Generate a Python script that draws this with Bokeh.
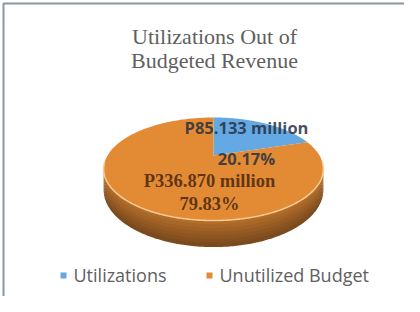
import numpy as np
from bokeh.plotting import figure
from bokeh.models import Range1d
from bokeh.embed import file_html
from bokeh.resources import INLINE
from bokeh.core.properties import value

# ---------------- data ----------------
title_lines = ["Utilizations Out of", "Budgeted Revenue"]
categories = ["Utilizations", "Unutilized Budget"]
amounts_million = [85.133, 336.870]
percents = [20.17, 79.83]
colors = ["#64A8E4", "#E38A35"]

# ---------------- figure (data units = page pixels) ----------------
W, H = 404, 296
p = figure(width=W, height=H, x_range=Range1d(8, 8 + W), y_range=Range1d(8 + H, 8),
           output_backend="svg", toolbar_location=None, min_border=0)
p.axis.visible = False
p.grid.visible = False
p.outline_line_color = None
p.background_fill_color = "white"
p.border_fill_color = "white"

# chart frame (only left and top edges are visible in the window)
p.quad(left=11, right=600, top=11, bottom=600, fill_color=None,
       line_color="#8797A6", line_width=2)

# ---------------- 3D perspective pie ----------------
CX, CY = 221, 163      # projected centre of the disc
A, B = 106, 48         # disc radii before perspective
G = -0.262             # perspective strength
DEPTH = 19             # thickness


def proj(theta, depth=0.0):
    u = np.sin(theta)
    v = -np.cos(theta)
    w = 1.0 / (1.0 + G * v)
    return CX + A * u * w, CY + B * v * w + depth * w


def mix(hexcol, f, other=(0, 0, 0)):
    r, g, b = (int(hexcol[i:i + 2], 16) for i in (1, 3, 5))
    c = [int(round(x * f + o * (1 - f))) for x, o in zip((r, g, b), other)]
    return "#%02x%02x%02x" % tuple(c)


vals = np.array(amounts_million)
fr = vals / vals.sum()
ends = np.cumsum(fr) * 2 * np.pi
starts = ends - fr * 2 * np.pi

# silhouette of the side wall
grid = np.linspace(0, 2 * np.pi, 3601)
gx, _ = proj(grid)
half = grid <= np.pi
ta = grid[half][np.argmax(gx[half])]
tb = grid[~half][np.argmin(gx[~half])]

# side wall, banded for shading
NB = 7
for s, e, col in zip(starts, ends, colors):
    lo, hi = max(s, ta), min(e, tb)
    if hi <= lo:
        continue
    th = np.linspace(lo, hi, 200)
    for k in range(NB):
        d0 = DEPTH * k / NB
        d1 = DEPTH * (k + 1) / NB + 0.6
        f = 0.78 - 0.24 * k / (NB - 1)
        x0, y0 = proj(th, d0)
        x1, y1 = proj(th[::-1], d1)
        p.patch(np.concatenate([x0, x1]), np.concatenate([y0, y1]),
                fill_color=mix(col, f), line_color=None)

# top faces
for s, e, col in zip(starts, ends, colors):
    th = np.linspace(s, e, 240)
    xs, ys = proj(th)
    p.patch(np.concatenate([[CX], xs]), np.concatenate([[CY], ys]),
            fill_color=col, line_color=None)

# light rim between top and side
th = np.linspace(ta - 0.15, tb + 0.15, 300)
rx, ry = proj(th)
p.line(rx, ry, line_color="#F7CD95", line_width=1.6, line_alpha=0.95)

# ---------------- data labels ----------------
lab1 = [f"P{amounts_million[0]:.3f} million", f"{percents[0]:.2f}%"]
p.text(x=[254, 254], y=[135, 166], text=lab1, text_align="center",
       text_baseline="middle", text_font=value("Open Sans"),
       text_font_style="bold", text_font_size="16.5px",
       text_color="#27303f", text_alpha=0.85)

lab2 = [f"P{amounts_million[1]:.3f} million", f"{percents[1]:.2f}%"]
p.text(x=[217, 217], y=[188, 211], text=lab2, text_align="center",
       text_baseline="middle", text_font=value("Liberation Serif"),
       text_font_style="bold", text_font_size="18.5px",
       text_color="#3D1E0A", text_alpha=0.8)

# ---------------- title ----------------
p.text(x=[222, 222], y=[44, 68], text=title_lines, text_align="center",
       text_baseline="middle", text_font=value("Liberation Serif"),
       text_font_size="22px", text_color="#5f5f5f")

# ---------------- legend ----------------
leg_x = [71, 217]
leg_y = 283
p.scatter(x=leg_x, y=[leg_y] * 2, marker="square", size=6,
          fill_color=colors, line_color=None)
p.text(x=[x + 10 for x in leg_x], y=[leg_y - 1] * 2, text=categories,
       text_align="left", text_baseline="middle", text_font=value("Open Sans"),
       text_font_size="18px", text_color="#606060")

open("out.html", "w").write(file_html(p, INLINE))
